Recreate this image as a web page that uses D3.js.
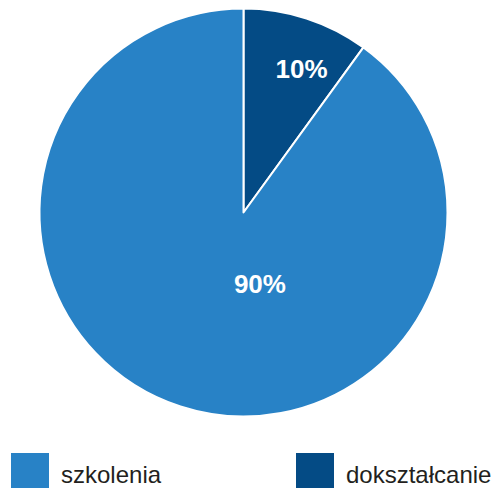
<!DOCTYPE html>
<html><head><meta charset="utf-8">
<script src="https://cdn.jsdelivr.net/npm/d3@7"></script>
<style>body{margin:0;background:#fff}svg{display:block}</style>
</head><body>
<script>
const categories = ["dokształcanie", "szkolenia"];
const values = [10, 90];
const labels = ["10%", "90%"];
const colors = ["#044b85", "#2882c6"];
const legendOrder = ["szkolenia", "dokształcanie"];

const W = 491, H = 488;
const cx = 243.5, cy = 212.5, R = 204;
const svg = d3.select("body").append("svg").attr("width", W).attr("height", H);
const color = d3.scaleOrdinal().domain(categories).range(colors);
const pie = d3.pie().sort(null).value(d => d)(values);
const arc = d3.arc().innerRadius(0).outerRadius(R);
const g = svg.append("g").attr("transform", `translate(${cx},${cy})`);
g.selectAll("path").data(pie).join("path")
  .attr("d", arc).attr("fill", (d, i) => color(categories[i]))
  .attr("stroke", "#fff").attr("stroke-width", 2).attr("stroke-linejoin", "round");

// label positions (polar: radius, angle in degrees clockwise from top)
const labelPos = [[155, 22], [73, 167]];
g.selectAll("text.lbl").data(pie).join("text").attr("class", "lbl")
  .attr("x", (d, i) => labelPos[i][0] * Math.sin(labelPos[i][1] * Math.PI / 180))
  .attr("y", (d, i) => -labelPos[i][0] * Math.cos(labelPos[i][1] * Math.PI / 180))
  .attr("text-anchor", "middle").attr("dy", "0.35em")
  .attr("font-family", "Liberation Sans, Arial, sans-serif")
  .attr("font-weight", "bold").attr("font-size", 26).attr("fill", "#fff")
  .text((d, i) => labels[i]);

const legX = d3.scalePoint().domain(legendOrder).range([11, 296]);
const lg = svg.selectAll("g.leg").data(legendOrder).join("g").attr("class", "leg")
  .attr("transform", d => `translate(${legX(d)},453)`);
lg.append("rect").attr("width", 38).attr("height", 36).attr("fill", d => color(d));
lg.append("text").attr("x", 50).attr("y", 30)
  .attr("font-family", "Liberation Sans, Arial, sans-serif").attr("font-size", 24)
  .attr("fill", "#231f20").text(d => d);
</script>
</body></html>
